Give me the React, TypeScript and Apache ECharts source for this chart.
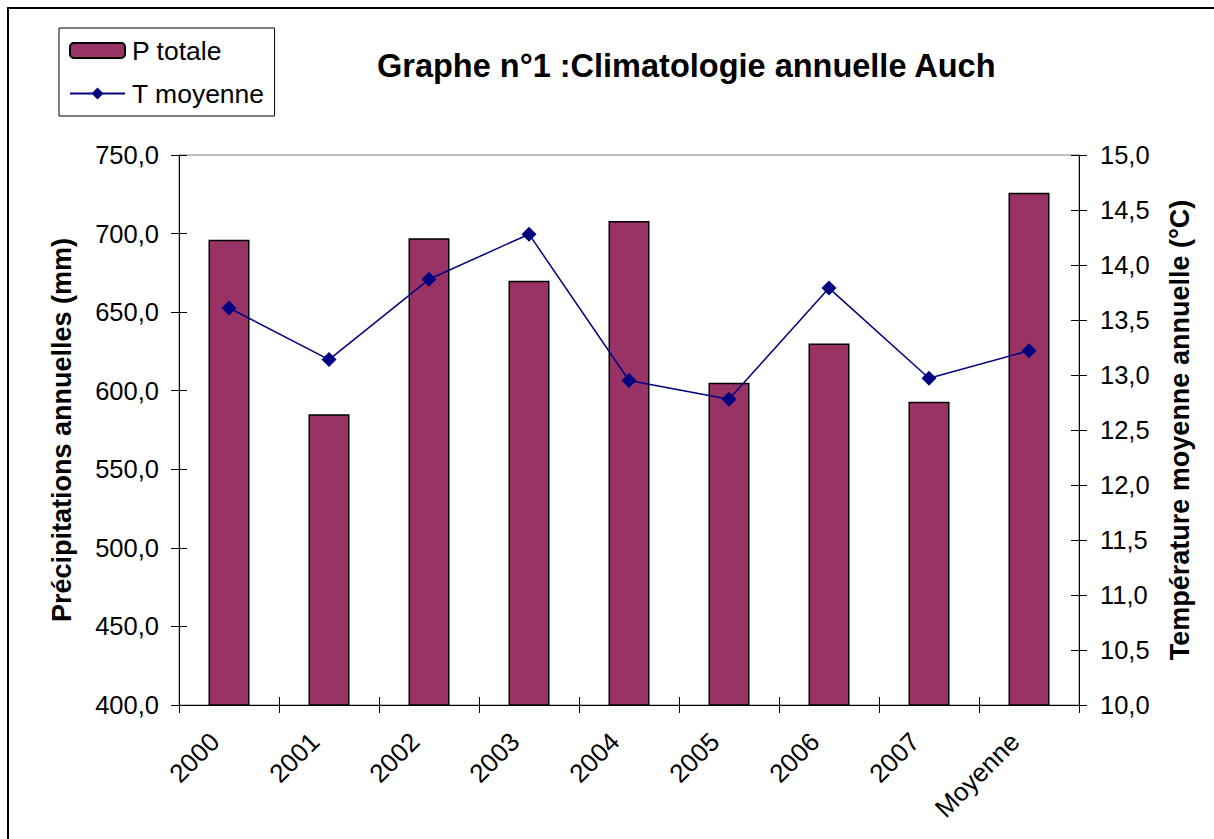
import React, { useEffect, useRef } from "react";
import * as echarts from "echarts";

const categories = ["2000", "2001", "2002", "2003", "2004", "2005", "2006", "2007", "Moyenne"];
const precipTotale = [696, 585, 697, 670, 708, 605, 630, 593, 726];
const tempMoyenne = [13.61, 13.14, 13.87, 14.28, 12.95, 12.78, 13.79, 12.97, 13.22];

const FONT = "'Liberation Sans', Arial, sans-serif";
const fmt = (v: number) => v.toFixed(1).replace(".", ",");

export default function App() {
  const ref = useRef<HTMLDivElement>(null);
  useEffect(() => {
    if (!ref.current) return;
    const chart = echarts.init(ref.current, undefined, { renderer: "svg" });
    const grid = { left: 179, right: 135, top: 155, bottom: 134, show: true, borderColor: "#808080", borderWidth: 1, backgroundColor: "#fff" };
    const yCommonLeft = { type: "value", min: 400, max: 750, interval: 50, position: "left", gridIndex: 0 };
    const yCommonRight = { type: "value", min: 10, max: 15, interval: 0.5, position: "right", gridIndex: 0 };
    const option: any = {
      animation: false,
      backgroundColor: "#fff",
      textStyle: { fontFamily: FONT },
      title: {
        text: "Graphe n°1 :Climatologie annuelle Auch",
        left: 372,
        top: 44,
        textStyle: { fontFamily: FONT, fontSize: 32.5, fontWeight: "bold", color: "#000" },
      },
      legend: {
        orient: "vertical",
        left: 59,
        top: 28,
        padding: [9, 10, 9, 10],
        itemGap: 16,
        itemWidth: 55,
        itemHeight: 15,
        borderColor: "#000",
        borderWidth: 1,
        backgroundColor: "#fff",
        textStyle: { fontFamily: FONT, fontSize: 26.5, color: "#000", lineHeight: 27, padding: [0, 0, 0, 2] },
        data: ["P totale", "T moyenne"],
      },
      grid,
      xAxis: [
        {
          type: "category",
          data: categories,
          boundaryGap: true,
          axisLine: { lineStyle: { color: "#000", width: 1 } },
          axisTick: { show: true, length: 8, alignWithLabel: false, lineStyle: { color: "#000" } },
          axisLabel: { rotate: 45, margin: 18, padding: [0, 20, 0, 0], fontFamily: FONT, fontSize: 26, color: "#000", interval: 0 },
        },
        {
          type: "category",
          data: categories,
          position: "bottom",
          boundaryGap: true,
          axisLine: { show: false },
          axisTick: { show: true, inside: true, length: 8, lineStyle: { color: "#000" } },
          axisLabel: { show: false },
        },
      ],
      yAxis: [
        {
          ...yCommonLeft,
          name: "Précipitations annuelles (mm)",
          nameLocation: "middle",
          nameGap: 104,
          nameTextStyle: { fontFamily: FONT, fontSize: 27, fontWeight: "bold", color: "#000" },
          axisLine: { show: true, lineStyle: { color: "#000", width: 1 } },
          axisTick: { show: true, length: 8, lineStyle: { color: "#000" } },
          axisLabel: { formatter: fmt, margin: 20, fontFamily: FONT, fontSize: 25.5, color: "#000" },
          splitLine: { show: false },
        },
        {
          ...yCommonRight,
          name: "Température moyenne annuelle (°C)",
          nameLocation: "middle",
          nameGap: 87,
          nameTextStyle: { fontFamily: FONT, fontSize: 27, fontWeight: "bold", color: "#000" },
          axisLine: { show: true, lineStyle: { color: "#000", width: 1 } },
          axisTick: { show: true, length: 8, lineStyle: { color: "#000" } },
          axisLabel: { formatter: fmt, margin: 21, fontFamily: FONT, fontSize: 25.5, color: "#000" },
          splitLine: { show: false },
        },
        {
          ...yCommonLeft,
          axisLine: { show: false },
          axisTick: { show: true, inside: true, length: 8, lineStyle: { color: "#000" } },
          axisLabel: { show: false },
          splitLine: { show: false },
        },
        {
          ...yCommonRight,
          axisLine: { show: false },
          axisTick: { show: true, inside: true, length: 8, lineStyle: { color: "#000" } },
          axisLabel: { show: false },
          splitLine: { show: false },
        },
      ],
      series: [
        {
          name: "P totale",
          type: "bar",
          xAxisIndex: 0,
          yAxisIndex: 0,
          data: precipTotale,
          barWidth: "41%",
          itemStyle: { color: "#993366", borderColor: "#000", borderWidth: 1.5 },
        },
        {
          name: "T moyenne",
          type: "line",
          xAxisIndex: 0,
          yAxisIndex: 1,
          data: tempMoyenne,
          symbol: "diamond",
          symbolSize: 15,
          itemStyle: { color: "#000080" },
          lineStyle: { color: "#000080", width: 1.5 },
        },
      ],
      graphic: [
        {
          type: "rect",
          shape: { x: 8, y: 8, width: 1300, height: 900 },
          style: { fill: "none", stroke: "#000", lineWidth: 2 },
          silent: true,
          z: 100,
        },
      ],
    };
    chart.setOption(option);
    return () => chart.dispose();
  }, []);
  return <div ref={ref} style={{ position: "fixed", left: 0, top: 0, width: 1214, height: 839 }} />;
}
